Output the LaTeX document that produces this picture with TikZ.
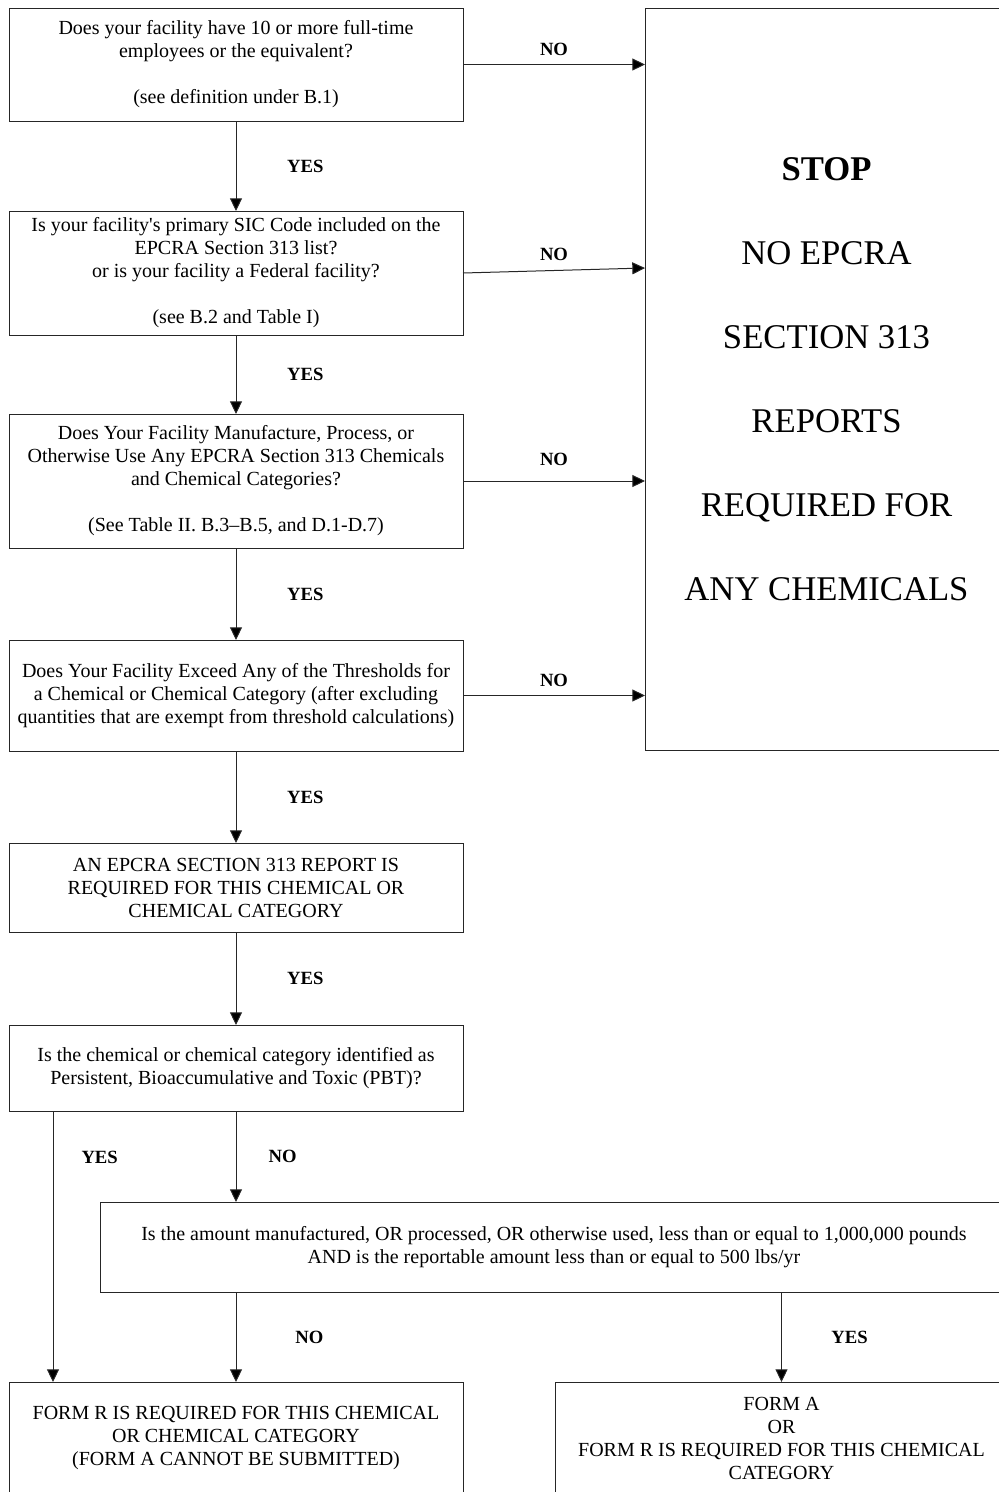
\documentclass[tikz,border=0pt]{standalone}
\usepackage{fontspec}
\setmainfont{Liberation Serif}
\usetikzlibrary{arrows.meta}
\colorlet{box edge}{black!85}
\colorlet{flow line}{black!85}
\tikzset{box/.style={draw=box edge, line width=0.75pt, anchor=north west, align=center,
        inner sep=0pt, outer sep=0pt, font=\fontsize{15}{17.25}\selectfont},
    flow/.style={draw=flow line, line width=0.75pt, -{Triangle[length=9.5pt,width=9pt,fill=black]}},
    lbl/.style={font=\fontsize{14}{16}\selectfont\bfseries}}

\begin{document}
\begin{tikzpicture}[x=0.75pt, y=-0.75pt]
    \useasboundingbox (0,0) rectangle (999,1492);
    \clip (0,0) rectangle (999,1492);
    % left column of questions
    \node[box, minimum width=340.5pt, minimum height=84.75pt] (emp) at (9,8)
        {Does your facility have 10 or more full-time\\employees or the equivalent?\\[17.25pt](see definition under B.1)};
    \node[box, minimum width=340.5pt, minimum height=93pt] (sic) at (9,211)
        {Is your facility\textquotesingle s primary SIC Code included on the\\EPCRA Section 313 list?\\or is your facility a Federal facility?\\[17.25pt](see B.2 and Table I)};
    \node[box, minimum width=340.5pt, minimum height=100.5pt] (chem) at (9,414)
        {Does Your Facility Manufacture, Process, or\\Otherwise Use Any EPCRA Section 313 Chemicals\\and Chemical Categories?\\[17.25pt](See Table II. B.3--B.5, and D.1-D.7)};
    \node[box, minimum width=340.5pt, minimum height=83.25pt] (thresh) at (9,640)
        {Does Your Facility Exceed Any of the Thresholds for\\a Chemical or Chemical Category (after excluding\\quantities that are exempt from threshold calculations)};
    \node[box, minimum width=340.5pt, minimum height=66.75pt] (report) at (9,843)
        {AN EPCRA SECTION 313 REPORT IS\\REQUIRED FOR THIS CHEMICAL OR\\CHEMICAL CATEGORY};
    \node[box, minimum width=340.5pt, minimum height=64.5pt] (pbt) at (9,1025)
        {Is the chemical or chemical category identified as\\Persistent, Bioaccumulative and Toxic (PBT)?};
    \node[box, minimum width=681pt, minimum height=67.5pt] (amount) at (100,1202)
        {Is the amount manufactured, OR processed, OR otherwise used, less than or equal to 1,000,000 pounds\\AND is the reportable amount less than or equal to 500 lbs/yr};
    \node[box, minimum width=340.5pt, minimum height=84pt] (formr) at (9,1382)
        {FORM R IS REQUIRED FOR THIS CHEMICAL\\OR CHEMICAL CATEGORY\\(FORM A CANNOT BE SUBMITTED)};
    \node[box, minimum width=339.75pt, minimum height=84pt] (forma) at (555,1382)
        {FORM A\\OR\\FORM R IS REQUIRED FOR THIS CHEMICAL\\CATEGORY};
    % stop box
    \node[box, minimum width=272.25pt, minimum height=556.5pt, font=\fontsize{26}{63}\selectfont] (stop) at (645,8)
        {\textbf{STOP}\\NO EPCRA\\SECTION 313\\REPORTS\\REQUIRED FOR\\ANY CHEMICALS};

    \draw[flow] (emp.east) -- (emp.east -| stop.west) node[lbl, midway, above=3pt] {NO};
    \draw[flow] (sic.east) -- ([yshift=3.75pt]sic.east -| stop.west) node[lbl, midway, above=4pt] {NO};
    \draw[flow] (chem.east) -- (chem.east -| stop.west) node[lbl, midway, above=8pt] {NO};
    \draw[flow] (thresh.east) -- (thresh.east -| stop.west) node[lbl, midway, above=3pt] {NO};

    \draw[flow] (emp.south) -- (sic.north) node[lbl, midway, xshift=52pt] {YES};
    \draw[flow] (sic.south) -- (chem.north) node[lbl, midway, xshift=52pt] {YES};
    \draw[flow] (chem.south) -- (thresh.north) node[lbl, midway, xshift=52pt] {YES};
    \draw[flow] (thresh.south) -- (report.north) node[lbl, midway, xshift=52pt] {YES};
    \draw[flow] (report.south) -- (pbt.north) node[lbl, midway, xshift=52pt] {YES};

    \draw[flow] ([xshift=33pt]pbt.south west) -- ([xshift=33pt]formr.north west) node[lbl, pos=0.17, xshift=35pt] {YES};
    \draw[flow] (pbt.south) -- (pbt.south |- amount.north) node[lbl, midway, xshift=35pt] {NO};
    \draw[flow] (formr.north |- amount.south) -- (formr.north) node[lbl, midway, xshift=55pt] {NO};
    \draw[flow] (forma.north |- amount.south) -- (forma.north) node[lbl, midway, xshift=51pt] {YES};
\end{tikzpicture}
\end{document}
